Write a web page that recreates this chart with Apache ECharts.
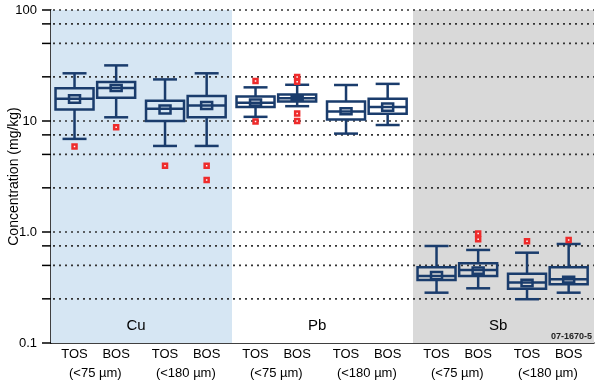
<!DOCTYPE html>
<html>
<head>
<meta charset="utf-8">
<script src="https://cdn.jsdelivr.net/npm/echarts@6/dist/echarts.min.js"></script>
<style>html,body{margin:0;padding:0;background:#fff}#c{width:600px;height:384px}</style>
</head>
<body>
<div id="c"></div>
<script>
// ---- data ----
const elements = ['Cu', 'Pb', 'Sb'];
const sampleTypes = ['TOS', 'BOS', 'TOS', 'BOS'];
const sizeFractions = ['(<75 \u00b5m)', '(<180 \u00b5m)'];
const yTickLabels = ['0.1', '1.0', '10', '100'];
const gridValues = [100, 75, 50, 25, 10, 7.5, 5, 2.5, 1, 0.75, 0.5, 0.25, 0.1];

// 12 boxes: Cu TOS75, Cu BOS75, Cu TOS180, Cu BOS180, Pb ..., Sb ...
const whiskerLow  = [6.9, 10.8, 5.96, 5.96, 10.9, 13.6, 7.7, 9.2, 0.284, 0.311, 0.248, 0.284];
const q1          = [12.7, 16.2, 10.0, 10.8, 13.4, 15.0, 10.3, 11.6, 0.370, 0.401, 0.308, 0.338];
const median      = [15.9, 19.8, 12.9, 13.8, 14.6, 16.0, 12.2, 13.4, 0.401, 0.455, 0.350, 0.375];
const q3          = [19.7, 22.5, 15.2, 16.8, 16.6, 17.3, 15.0, 15.9, 0.481, 0.522, 0.421, 0.481];
const whiskerHigh = [26.9, 31.7, 23.7, 26.9, 20.1, 21.2, 21.1, 21.6, 0.748, 0.689, 0.651, 0.780];
const innerLow    = [14.6, 18.6, 11.7, 12.8, 13.8, 15.4, 11.5, 12.4, 0.375, 0.420, 0.324, 0.350];
const innerHigh   = [17.1, 21.1, 13.8, 14.8, 15.6, 16.8, 13.0, 14.4, 0.436, 0.480, 0.372, 0.396];

// outliers: [box index, value]
const outlierBox   = [0, 1, 2, 3, 3, 4, 4, 5, 5, 5, 5, 9, 9, 10, 11];
const outlierValue = [5.9, 8.8, 3.96, 3.96, 2.94, 22.9, 9.9, 24.9, 22.6, 11.7, 10.0, 0.97, 0.86, 0.824, 0.847];

const figureId = '07-1670-5';

// ---- layout (slot offsets within each panel) ----
const slotOffsets = [0.13, 0.36, 0.63, 0.86];
const panelColors = ['#d6e6f3', '#ffffff', '#d9d9d9'];
const NAVY = '#1a3c6c';
const RED = '#ee2b2b';
const FONT = "'Liberation Sans', Arial, sans-serif";

function boxX(i) { return Math.floor(i / 4) + slotOffsets[i % 4]; }

const boxData = whiskerLow.map((_, i) => [boxX(i), whiskerLow[i], q1[i], median[i], q3[i], whiskerHigh[i], innerLow[i], innerHigh[i]]);
const outlierData = outlierBox.map((b, k) => [boxX(b), outlierValue[k]]);

const labelData = [];
for (let p = 0; p < elements.length; p++) {
  for (let s = 0; s < 4; s++) labelData.push([p + slotOffsets[s], sampleTypes[s], 0]);
  for (let f = 0; f < 2; f++) labelData.push([p + (slotOffsets[2 * f] + slotOffsets[2 * f + 1]) / 2, sizeFractions[f], 1]);
  labelData.push([p + 0.47, elements[p], 2]);
}
labelData.push([3, figureId, 3]);

const chart = echarts.init(document.getElementById('c'), null, { renderer: 'canvas' });

function renderBox(params, api) {
  const x = api.value(0);
  const c = v => api.coord([x, v]);
  const cx = c(api.value(3))[0];
  const yLow = c(api.value(1))[1], yQ1 = c(api.value(2))[1], yMed = c(api.value(3))[1];
  const yQ3 = c(api.value(4))[1], yHigh = c(api.value(5))[1];
  const yIL = c(api.value(6))[1], yIH = c(api.value(7))[1];
  const hb = 19, hc = 12, hi = 5.5;
  const st = { stroke: NAVY, lineWidth: 2.5, fill: null };
  return {
    type: 'group',
    children: [
      { type: 'line', shape: { x1: cx, y1: yQ3, x2: cx, y2: yHigh }, style: st },
      { type: 'line', shape: { x1: cx, y1: yQ1, x2: cx, y2: yLow }, style: st },
      { type: 'line', shape: { x1: cx - hc, y1: yHigh, x2: cx + hc, y2: yHigh }, style: st },
      { type: 'line', shape: { x1: cx - hc, y1: yLow, x2: cx + hc, y2: yLow }, style: st },
      { type: 'rect', shape: { x: cx - hb, y: yQ3, width: 2 * hb, height: yQ1 - yQ3 }, style: st },
      { type: 'line', shape: { x1: cx - hb, y1: yMed, x2: cx + hb, y2: yMed }, style: st },
      { type: 'rect', shape: { x: cx - hi, y: yIH, width: 2 * hi, height: yIL - yIH }, style: st }
    ]
  };
}

function renderOutlier(params, api) {
  const p = api.coord([api.value(0), api.value(1)]);
  return { type: 'rect', shape: { x: p[0] - 2, y: p[1] - 2, width: 4, height: 4 },
    style: { fill: '#ffffff', stroke: RED, lineWidth: 2.5 } };
}

function renderGrid(params, api) {
  const v = api.value(0);
  const a = api.coord([0, v]);
  const b = api.coord([3, v]);
  const children = [
    { type: 'line', shape: { x1: a[0] - 9, y1: a[1], x2: a[0], y2: a[1] }, style: { stroke: '#000', lineWidth: 1.5 } }
  ];
  if (v > 0.1) children.push({ type: 'line', shape: { x1: a[0] + 2, y1: a[1], x2: b[0], y2: b[1] },
    style: { stroke: '#333', lineWidth: 1.6, lineDash: [2, 4] } });
  return { type: 'group', children };
}

function renderLabel(params, api) {
  const kind = api.value(2);
  const p = api.coord([api.value(0), 0.1]);
  const txt = labelData[params.dataIndex][1];
  if (kind === 3) {
    return { type: 'text', x: p[0] - 2, y: p[1] - 2,
      style: { text: txt, fill: '#222', font: 'bold 9px ' + FONT, align: 'right', verticalAlign: 'bottom' } };
  }
  const dy = kind === 0 ? 11 : (kind === 1 ? 30 : -17);
  return { type: 'text', x: p[0], y: p[1] + dy,
    style: { text: txt, fill: '#000', font: (kind === 2 ? '15px ' : '13px ') + FONT, align: 'center', verticalAlign: 'middle' } };
}

const option = {
  animation: false,
  grid: { left: 51, right: 6, top: 10, bottom: 41, outerBoundsMode: 'none', containLabel: false },
  xAxis: {
    type: 'value', min: 0, max: 3,
    axisLine: { show: true, lineStyle: { color: '#000', width: 1.5 } },
    axisTick: { show: false }, axisLabel: { show: false }, splitLine: { show: false }
  },
  yAxis: {
    type: 'log', logBase: 10, min: 0.1, max: 100,
    name: 'Concentration (mg/kg)', nameLocation: 'middle', nameGap: 30, nameMoveOverlap: false,
    nameTextStyle: { fontSize: 14, fontFamily: FONT, color: '#000' },
    axisLine: { show: true, lineStyle: { color: '#000', width: 1.5 } },
    axisTick: { show: false },
    splitLine: { show: false },
    axisLabel: {
      margin: 14, fontSize: 13, fontFamily: FONT, color: '#000',
      formatter: v => yTickLabels[Math.round(Math.log10(v)) + 1]
    }
  },
  series: [
    {
      type: 'custom', name: 'grid', z: 1, clip: false,
      data: gridValues.map(v => [v]),
      encode: { y: 0 },
      renderItem: renderGrid,
      markArea: {
        silent: true,
        data: panelColors.map((col, i) => [{ xAxis: i, itemStyle: { color: col } }, { xAxis: i + 1 }])
      }
    },
    { type: 'custom', name: 'boxes', z: 3, data: boxData, encode: { x: 0, y: [1, 2, 3, 4, 5, 6, 7] }, renderItem: renderBox },
    { type: 'custom', name: 'outliers', z: 4, data: outlierData, encode: { x: 0, y: 1 }, renderItem: renderOutlier },
    { type: 'custom', name: 'labels', z: 5, clip: false, data: labelData.map(d => [d[0], d[1], d[2]]), renderItem: renderLabel }
  ]
};
chart.setOption(option);
</script>
</body>
</html>
